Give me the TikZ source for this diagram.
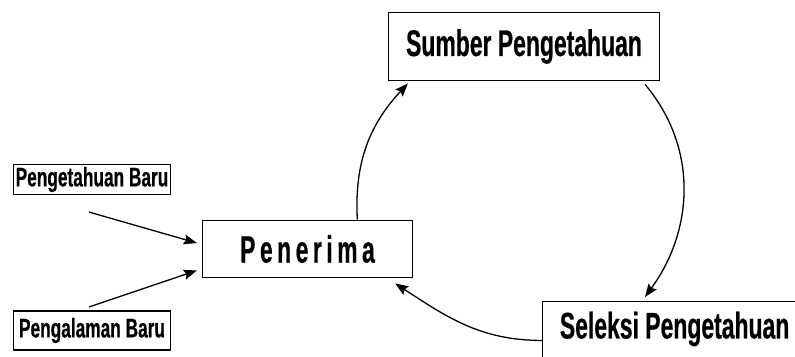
\documentclass[tikz,border=0pt]{standalone}
\usepackage{fontspec}
\setmainfont{Liberation Sans}
\newfontfamily\narrowfont{Liberation Sans}[FakeStretch=0.62,BoldFeatures={FakeBold=0.5}]
\newfontfamily\slimfont{Liberation Sans}[FakeStretch=0.64,BoldFeatures={FakeBold=0.5}]
\newfontfamily\spacedfont{Liberation Sans}[FakeStretch=0.60,LetterSpace=12,BoldFeatures={FakeBold=0.5}]
\usepackage{tikz}
\usetikzlibrary{arrows.meta,positioning,calc}

\tikzset{
    box/.style={draw, line width=1.2bp, inner sep=0pt, fill=white},
    bigtext/.style={font=\narrowfont\bfseries\fontsize{37bp}{41bp}\selectfont},
    smalltext/.style={font=\slimfont\bfseries\fontsize{27bp}{31bp}\selectfont},
    arr/.style={line width=1.3bp, -{Stealth[length=13bp,width=10bp,inset=2bp]}}
}

\begin{document}
\begin{tikzpicture}[x=1bp, y=1bp]
    \useasboundingbox (0,0) rectangle (795,356);

    % Boxes
    \node[box, bigtext, minimum width=272, minimum height=69] (sumber) at (524,309.5) {Sumber Pengetahuan};
    \node[box, font=\spacedfont\bfseries\fontsize{38bp}{42bp}\selectfont, minimum width=211, minimum height=58] (penerima) at (307.5,107) {Penerima};
    \node[box, bigtext, minimum width=265, minimum height=70, text height=26bp, text depth=22bp, anchor=north west] (seleksi) at (542,55) {Seleksi Pengetahuan};
    \node[box, smalltext, minimum width=158, minimum height=30] (baru) at (92,176.5) {Pengetahuan Baru};
    \node[box, smalltext, minimum width=158, minimum height=39] (alaman) at (92,25.5) {Pengalaman Baru};

    % Inputs
    \draw[arr] ([shift={(-3,-17)}]baru.south) -- ([shift={(-5,6)}]penerima.west);
    \draw[arr] ([shift={(-3,3.5)}]alaman.north) -- ([shift={(-5,8)}]penerima.south west);

    % Cycle
    \draw[arr] ([xshift=50]penerima.north) to[out=93, in=227] ([shift={(20,-2)}]sumber.south west);
    \draw[arr] ([shift={(-15,-3)}]sumber.south east) to[out=-50, in=54] ([shift={(103,4)}]seleksi.north west);
    \draw[arr] ([yshift=-4]seleksi.west) to[out=180, in=-33] ([shift={(-18,-5)}]penerima.south east);
\end{tikzpicture}
\end{document}
